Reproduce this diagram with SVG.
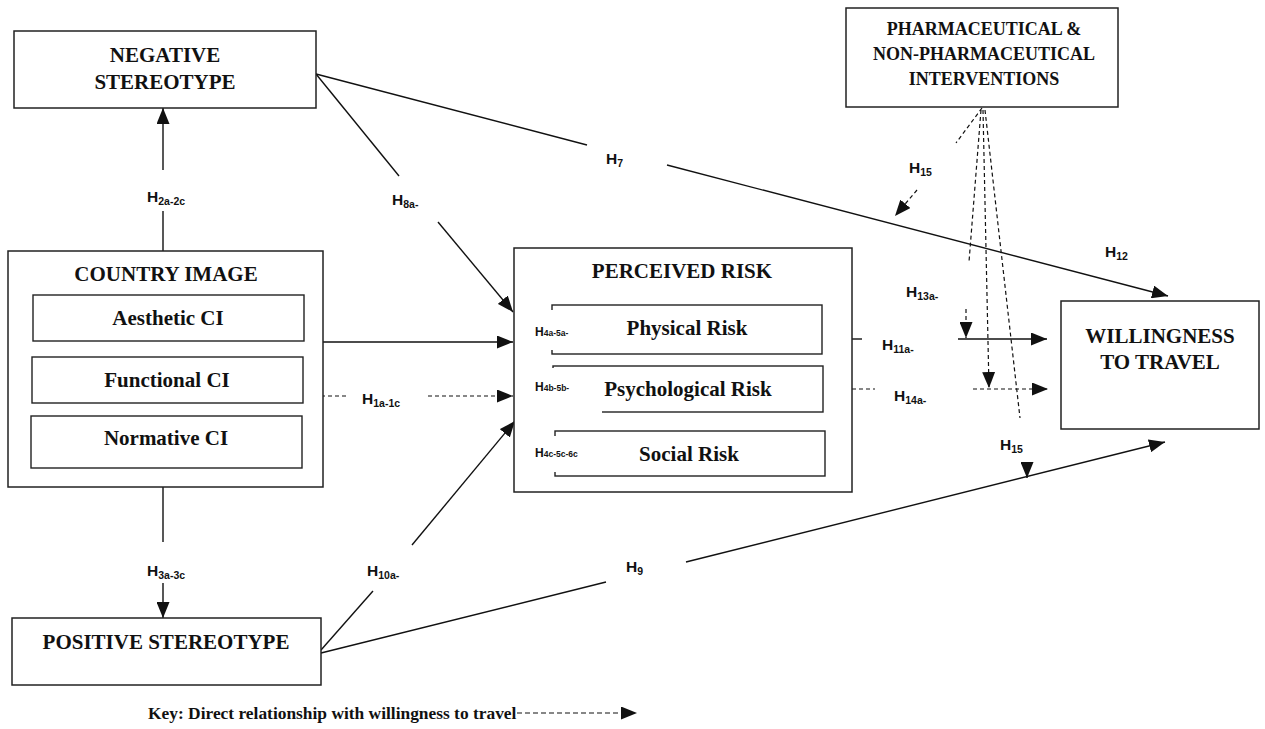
<svg xmlns="http://www.w3.org/2000/svg" width="1265" height="729" viewBox="0 0 1265 729">
<style>
.box{fill:#fff;stroke:#222;stroke-width:1.5}
.sub{fill:#fff;stroke:#222;stroke-width:1.4}
.t{font-family:"Liberation Serif","Times New Roman",serif;font-weight:bold;font-size:21px;fill:#111;text-anchor:middle}
.tp{font-size:18px}
.key{font-family:"Liberation Serif","Times New Roman",serif;font-weight:bold;font-size:17.4px;fill:#111}
.h{font-family:"Liberation Sans",Arial,sans-serif;font-weight:bold;font-size:15.5px;fill:#111}
.hs{font-size:10.5px}
.hm{font-family:"Liberation Sans",Arial,sans-serif;font-weight:bold;font-size:12px;fill:#111}
.hms{font-size:8.5px}
.ln{fill:none;stroke:#111;stroke-width:1.4}
.ds{fill:none;stroke:#111;stroke-width:1.2;stroke-dasharray:4 3}
.kd{fill:none;stroke:#111;stroke-width:1.2;stroke-dasharray:5 3}
</style>
<defs>
<marker id="ah" viewBox="0 0 16 13" refX="16" refY="6.5" markerWidth="16" markerHeight="13" markerUnits="userSpaceOnUse" orient="auto">
<path d="M0,0 L16,6.5 L0,13 Z" fill="#111"/>
</marker>
</defs>
<rect width="1265" height="729" fill="#fff"/>

<g id="connectors">
<path class="ln" d="M163,251 L163,211"/>
<path class="ln" d="M163,170 L163,108" marker-end="url(#ah)"/>
<path class="ln" d="M163,487 L163,542"/>
<path class="ln" d="M163,583 L163,618" marker-end="url(#ah)"/>
<path class="ln" d="M316,74 L399,176"/>
<path class="ln" d="M438,222 L513,312" marker-end="url(#ah)"/>
<path class="ln" d="M316,74 L587,145"/>
<path class="ln" d="M667,165 L1168,296" marker-end="url(#ah)"/>
<path class="ln" d="M321,342 L513,342" marker-end="url(#ah)"/>
<path class="ds" d="M321,396 L346,396"/>
<path class="ds" d="M428,396 L513,396" marker-end="url(#ah)"/>
<path class="ln" d="M321,650 L373,591"/>
<path class="ln" d="M412,545 L515,421" marker-end="url(#ah)"/>
<path class="ln" d="M321,653 L606,582"/>
<path class="ln" d="M686,562 L1165,442" marker-end="url(#ah)"/>
<path class="ln" d="M845,339 L862,339"/>
<path class="ln" d="M958,339 L1047,339" marker-end="url(#ah)"/>
<path class="ds" d="M852,389 L875,389"/>
<path class="ds" d="M973,389 L1048,389" marker-end="url(#ah)"/>
<path class="ds" d="M982,108 L956,143"/>
<path class="ds" d="M917,190 L895,216" marker-end="url(#ah)"/>
<path class="ds" d="M981,110 L969,262"/>
<path class="ds" d="M966,309 L966,338" marker-end="url(#ah)"/>
<path class="ds" d="M983,110 L989,388" marker-end="url(#ah)"/>
<path class="ds" d="M985,110 L1020,418"/>
<path class="ln" d="M1027,463 L1027,478" marker-end="url(#ah)"/>
</g>

<g id="negative-stereotype">
<rect class="box" x="14" y="31" width="302" height="77"/>
<text class="t" x="165" y="62">NEGATIVE</text>
<text class="t" x="165" y="89">STEREOTYPE</text>
</g>

<g id="interventions">
<rect class="box" x="846" y="8" width="272" height="99"/>
<text class="t tp" x="984" y="35">PHARMACEUTICAL &amp;</text>
<text class="t tp" x="984" y="60">NON-PHARMACEUTICAL</text>
<text class="t tp" x="984" y="85">INTERVENTIONS</text>
</g>

<g id="country-image">
<rect class="box" x="8" y="251" width="315" height="236"/>
<text class="t" x="166" y="281">COUNTRY IMAGE</text>
<rect class="sub" x="33" y="295" width="271" height="46"/>
<text class="t" x="168" y="325">Aesthetic CI</text>
<rect class="sub" x="32" y="357" width="271" height="46"/>
<text class="t" x="167" y="387">Functional CI</text>
<rect class="sub" x="31" y="416" width="271" height="52"/>
<text class="t" x="166" y="445">Normative CI</text>
</g>

<g id="perceived-risk">
<rect class="box" x="514" y="248" width="338" height="244"/>
<text class="t" x="682" y="278">PERCEIVED RISK</text>
<rect class="sub" x="552" y="305" width="270" height="49"/>
<rect class="sub" x="553" y="366" width="270" height="46"/>
<rect class="sub" x="555" y="431" width="270" height="45"/>
<rect x="540" y="310" width="16" height="40" fill="#fff"/>
<rect x="540" y="368" width="62" height="46" fill="#fff"/>
<rect x="540" y="436" width="18" height="36" fill="#fff"/>
<text class="t" x="687" y="335">Physical Risk</text>
<text class="t" x="688" y="396">Psychological Risk</text>
<text class="t" x="689" y="461">Social Risk</text>
<text class="hm" x="535" y="336">H<tspan class="hms">4a-5a-</tspan></text>
<text class="hm" x="535" y="391">H<tspan class="hms">4b-5b-</tspan></text>
<text class="hm" x="535" y="457">H<tspan class="hms">4c-5c-6c</tspan></text>
</g>

<g id="willingness">
<rect class="box" x="1061" y="301" width="198" height="128"/>
<text class="t" x="1160" y="343">WILLINGNESS</text>
<text class="t" x="1160" y="369">TO TRAVEL</text>
</g>

<g id="positive-stereotype">
<rect class="box" x="12" y="618" width="309" height="67"/>
<text class="t" x="166" y="649">POSITIVE STEREOTYPE</text>
</g>

<g id="labels">
<text class="h" x="147" y="202">H<tspan class="hs" dy="3">2a-2c</tspan></text>
<text class="h" x="392" y="205">H<tspan class="hs" dy="3">8a-</tspan></text>
<text class="h" x="606" y="164">H<tspan class="hs" dy="3">7</tspan></text>
<text class="h" x="909" y="173">H<tspan class="hs" dy="3">15</tspan></text>
<text class="h" x="1105" y="257">H<tspan class="hs" dy="3">12</tspan></text>
<text class="h" x="906" y="297">H<tspan class="hs" dy="3">13a-</tspan></text>
<text class="h" x="882" y="350">H<tspan class="hs" dy="3">11a-</tspan></text>
<text class="h" x="894" y="401">H<tspan class="hs" dy="3">14a-</tspan></text>
<text class="h" x="1000" y="450">H<tspan class="hs" dy="3">15</tspan></text>
<text class="h" x="362" y="404">H<tspan class="hs" dy="3">1a-1c</tspan></text>
<text class="h" x="626" y="572">H<tspan class="hs" dy="3">9</tspan></text>
<text class="h" x="367" y="576">H<tspan class="hs" dy="3">10a-</tspan></text>
<text class="h" x="147" y="576">H<tspan class="hs" dy="3">3a-3c</tspan></text>
</g>

<g id="key">
<text class="key" x="148" y="719">Key: Direct relationship with willingness to travel</text>
<path class="kd" d="M517,713 L637,713" marker-end="url(#ah)"/>
</g>
</svg>
